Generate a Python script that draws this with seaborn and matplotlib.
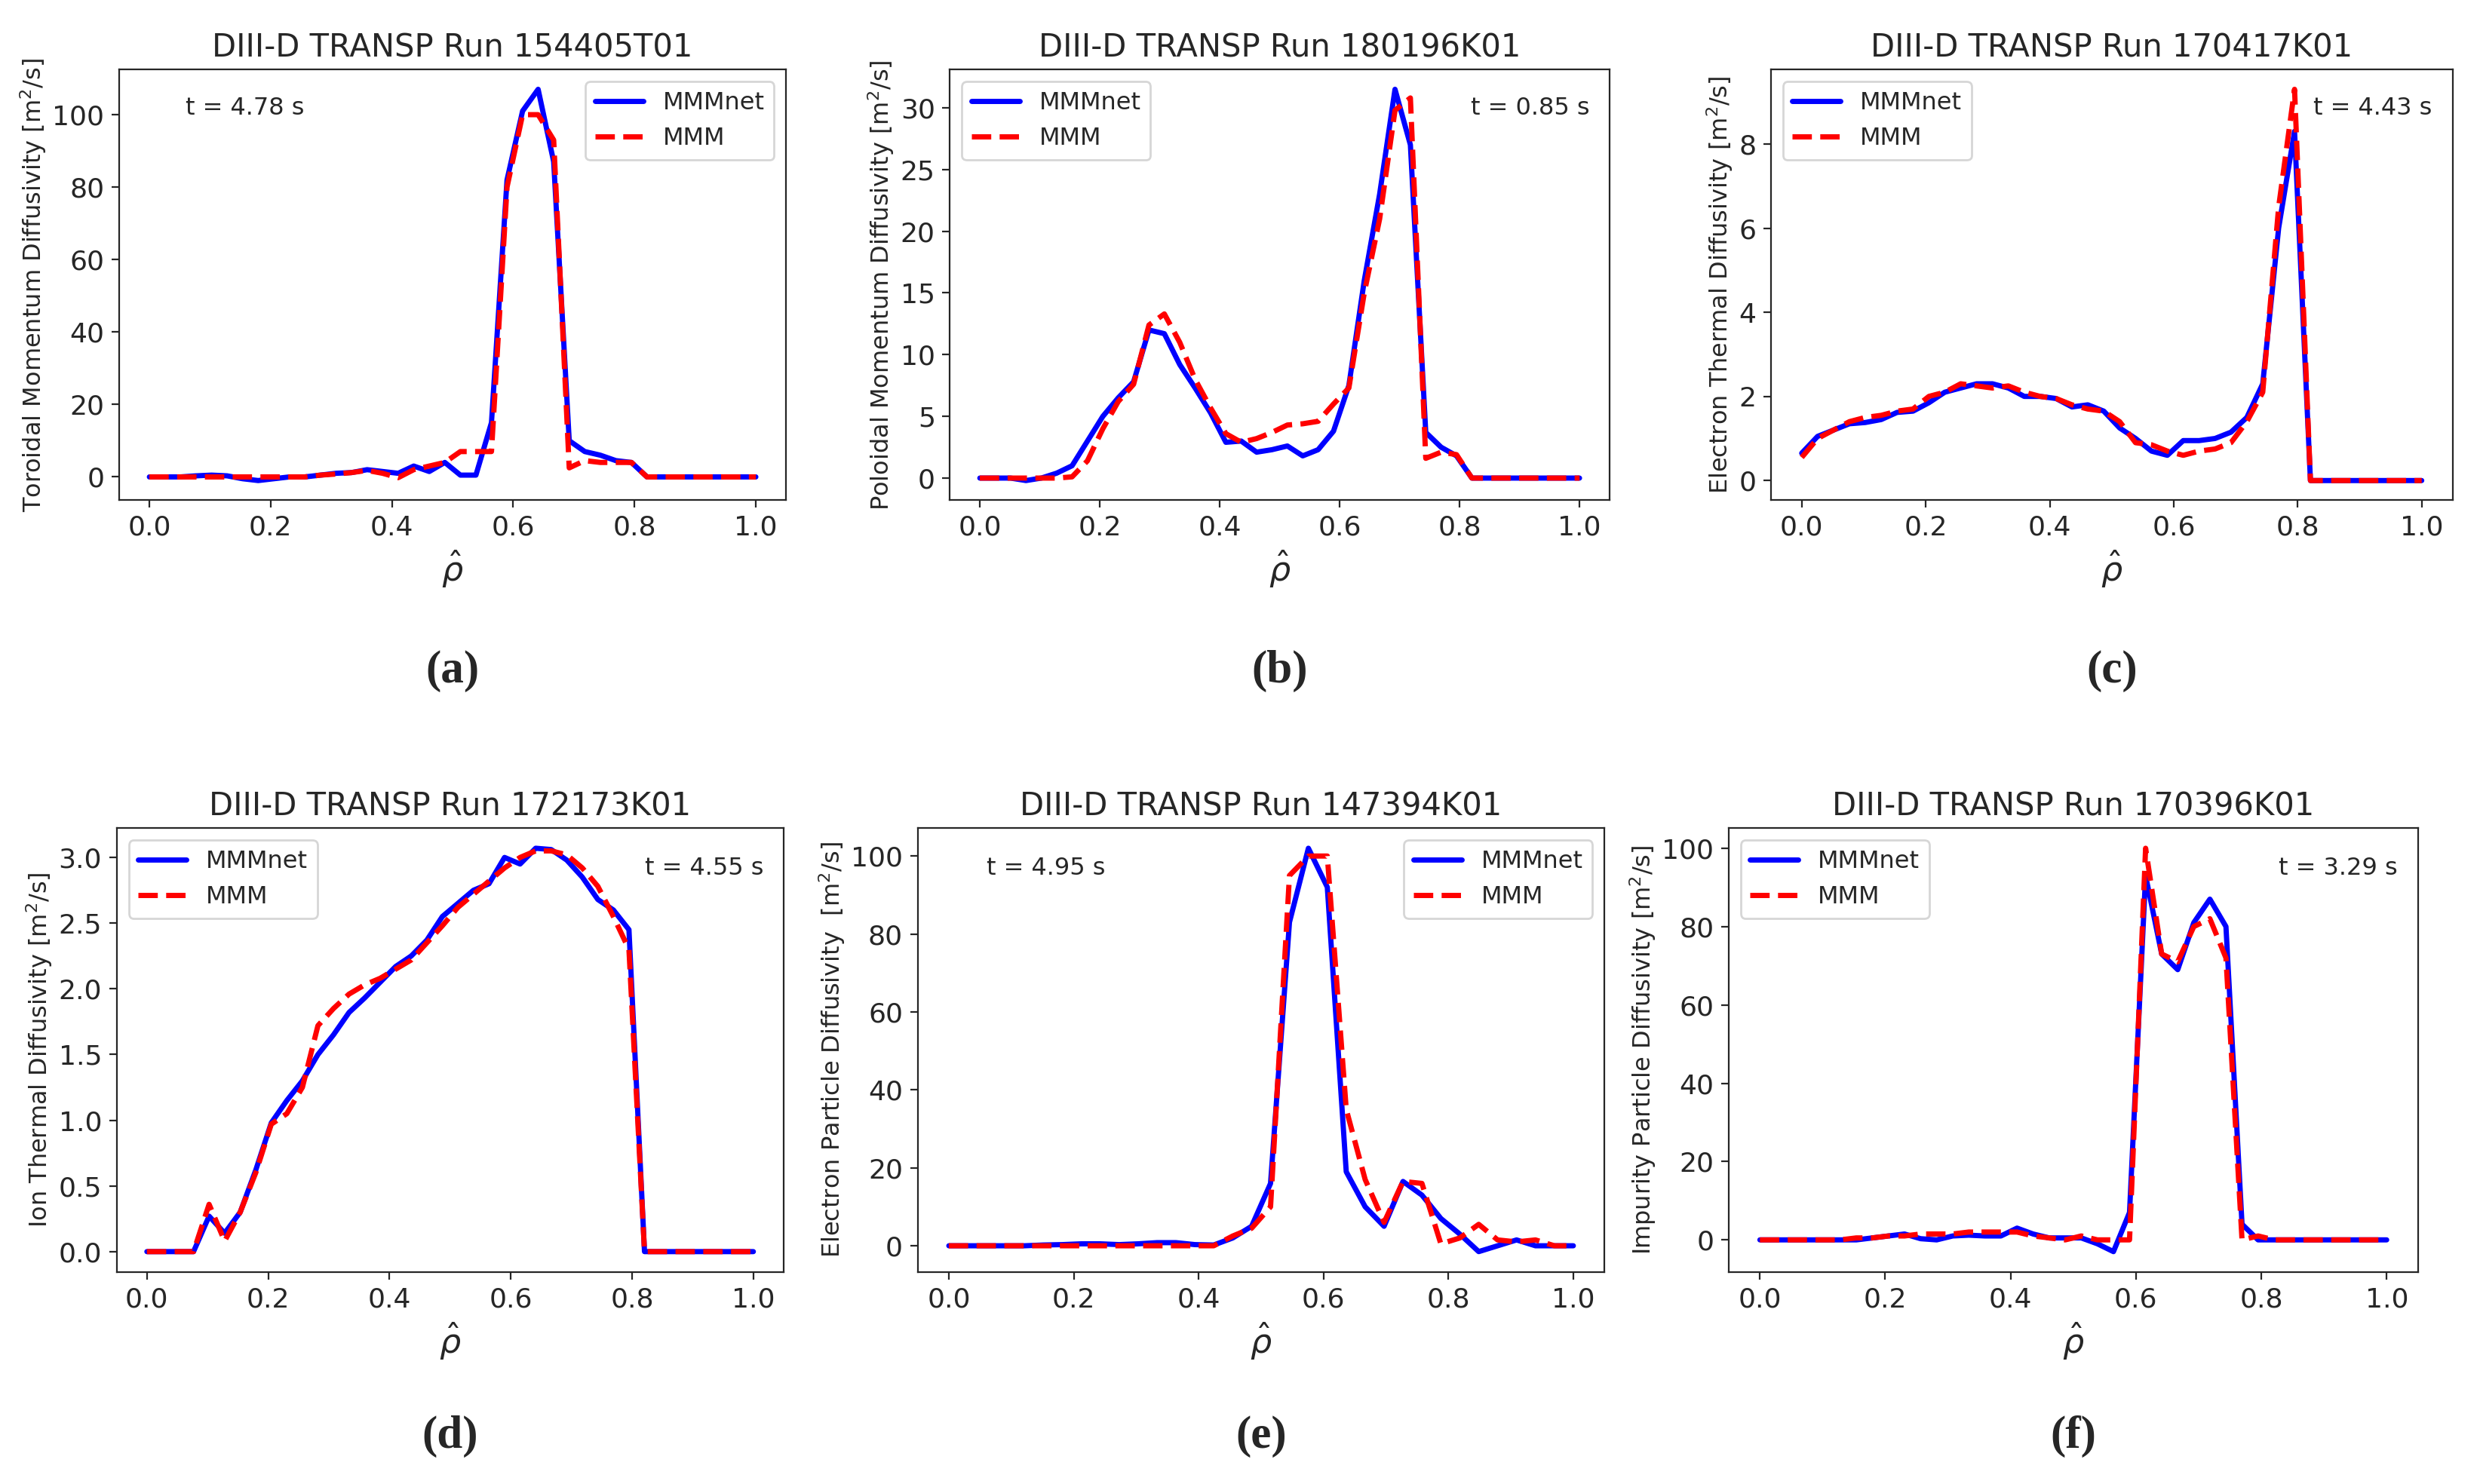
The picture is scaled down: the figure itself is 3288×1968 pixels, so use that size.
import numpy as np
import matplotlib
matplotlib.use('Agg')
import matplotlib.pyplot as plt
import seaborn as sns

# ── Data ─────────────────────────────────────────────────────
rho40 = np.linspace(0, 1, 40)
rho34 = np.linspace(0, 1, 34)
Z8 = [0] * 8

a_net = [0, 0, 0, 0.3, 0.5, 0.3, -0.5, -1, -0.5, 0, 0, 0.5, 1, 1.2, 2, 1.5, 1, 3, 1.5, 4,
         0.5, 0.5, 15, 82, 101, 107, 87, 10, 7, 6, 4.5, 4] + Z8
a_mmm = [0, 0, 0, 0, 0, 0, 0, 0, 0, 0, 0, 0.5, 0.8, 1.2, 1.8, 1, -0.2, 2, 3, 4,
         7, 7, 7, 80, 100, 100, 93, 2.5, 4.5, 4, 4, 4] + Z8

b_net = [0, 0, 0, -0.2, 0, 0.4, 1, 3, 5, 6.5, 7.8, 12, 11.7, 9.2, 7.3, 5.3, 2.9, 3, 2.1, 2.3,
         2.6, 1.8, 2.3, 3.8, 7.5, 16, 23, 31.5, 27, 3.7, 2.5, 1.8] + Z8
b_mmm = [0, 0, 0, 0, 0, 0, 0.1, 1.4, 4, 6.2, 7.6, 12.4, 13.3, 11, 8, 5.7, 3.6, 2.9, 3.2, 3.7,
         4.3, 4.4, 4.6, 6, 7.3, 15, 21, 29.8, 30.8, 1.6, 2.1, 1.9] + Z8

c_net = [0.65, 1.05, 1.2, 1.35, 1.38, 1.45, 1.62, 1.65, 1.85, 2.1, 2.2, 2.3, 2.3, 2.2, 2.0, 2.0,
         1.95, 1.75, 1.8, 1.65, 1.25, 1.0, 0.7, 0.6, 0.95, 0.95, 1.0, 1.15, 1.5, 2.3, 6, 8.3] + Z8
c_mmm = [0.55, 1.0, 1.2, 1.4, 1.5, 1.55, 1.65, 1.7, 2.0, 2.1, 2.3, 2.25, 2.2, 2.25, 2.1, 2.0,
         1.95, 1.8, 1.7, 1.65, 1.4, 0.9, 0.85, 0.7, 0.6, 0.7, 0.75, 0.9, 1.4, 2.1, 6.5, 9.3] + Z8

d_net = [0, 0, 0, 0, 0.27, 0.14, 0.3, 0.62, 0.98, 1.15, 1.3, 1.5, 1.65, 1.82, 1.93, 2.05,
         2.17, 2.25, 2.37, 2.55, 2.65, 2.75, 2.8, 3.0, 2.95, 3.07, 3.06, 2.98, 2.85, 2.68, 2.6, 2.45] + Z8
d_mmm = [0, 0, 0, 0, 0.36, 0.08, 0.3, 0.6, 0.97, 1.05, 1.25, 1.72, 1.85, 1.96, 2.03, 2.08,
         2.15, 2.22, 2.35, 2.48, 2.62, 2.72, 2.82, 2.92, 3.0, 3.05, 3.05, 3.02, 2.92, 2.78, 2.55, 2.3] + Z8

e_net = [0, 0, 0, 0, 0, 0.2, 0.3, 0.5, 0.5, 0.3, 0.5, 0.8, 0.8, 0.3, 0.2, 2, 5, 16, 83, 102,
         92, 19, 10, 5, 16.5, 13, 7, 3, -1.5, 0, 1.5, 0, 0, 0]
e_mmm = [0, 0, 0, 0, 0, 0, 0, 0, 0, 0, 0, 0, 0, 0, 0, 2.5, 4.5, 10, 95, 100,
         100, 35, 17, 6, 16.5, 16, 0.5, 2, 5.5, 1.5, 1, 1.5, 0, 0]

f_net = [0, 0, 0, 0, 0, 0, 0, 0.5, 1, 1.5, 0.3, 0, 1, 1.2, 1, 1, 3, 1.5, 0.5, 0.5,
         0.5, -1, -3, 7, 93, 73, 69, 81, 87, 80, 4, 0] + Z8
f_mmm = [0, 0, 0, 0, 0, 0, 0.5, 0.5, 1, 1, 1.5, 1.5, 1.5, 2, 2, 2, 2, 1, 0.5, 0,
         1, 0, 0, 0, 100, 73, 71, 80, 82, 72, 0, 1] + Z8

titles = ['DIII-D TRANSP Run 154405T01', 'DIII-D TRANSP Run 180196K01', 'DIII-D TRANSP Run 170417K01',
          'DIII-D TRANSP Run 172173K01', 'DIII-D TRANSP Run 147394K01', 'DIII-D TRANSP Run 170396K01']
ylabels = ['Toroidal Momentum Diffusivity [m$^2$/s]', 'Poloidal Momentum Diffusivity [m$^2$/s]',
           'Electron Thermal Diffusivity [m$^2$/s]', 'Ion Thermal Diffusivity [m$^2$/s]',
           'Electron Particle Diffusivity  [m$^2$/s]', 'Impurity Particle Diffusivity [m$^2$/s]']
times = ['t = 4.78 s', 't = 0.85 s', 't = 4.43 s', 't = 4.55 s', 't = 4.95 s', 't = 3.29 s']
tags = ['(a)', '(b)', '(c)', '(d)', '(e)', '(f)']

panels = [(rho40, a_net, a_mmm), (rho40, b_net, b_mmm), (rho40, c_net, c_mmm),
          (rho40, d_net, d_mmm), (rho34, e_net, e_mmm), (rho40, f_net, f_mmm)]

# legend location, time-label position
legend_locs = ['upper right', 'upper left', 'upper left', 'upper left', 'upper right', 'upper left']
time_pos = [(0.1, 0.91, 'left'), (0.97, 0.91, 'right'), (0.97, 0.91, 'right'),
            (0.97, 0.91, 'right'), (0.1, 0.91, 'left'), (0.97, 0.91, 'right')]

# axes rectangles [left, bottom, width, height] (figure fraction)
rects = [[0.048, 0.663, 0.269, 0.290], [0.383, 0.663, 0.266, 0.290], [0.714, 0.663, 0.275, 0.290],
         [0.047, 0.143, 0.269, 0.299], [0.370, 0.143, 0.277, 0.299], [0.697, 0.143, 0.278, 0.299]]
tag_y = [0.548, 0.548, 0.548, 0.032, 0.032, 0.032]

sns.set_style('ticks')
fig = plt.figure(figsize=(16.44, 9.84), dpi=200)
fig.patch.set_facecolor('white')

for i, (x, net, mmm) in enumerate(panels):
    ax = fig.add_axes(rects[i])
    sns.lineplot(x=x, y=net, ax=ax, color='blue', linewidth=2.5, label='MMMnet')
    sns.lineplot(x=x, y=mmm, ax=ax, color='red', linewidth=2.5, linestyle='--', label='MMM')
    ax.set_title(titles[i], fontsize=15)
    ax.set_ylabel(ylabels[i], fontsize=11.5, labelpad=2)
    ax.set_xlabel(r'$\hat{\rho}$', fontsize=16)
    ax.set_xticks([0.0, 0.2, 0.4, 0.6, 0.8, 1.0])
    ax.tick_params(labelsize=13)
    ax.legend(loc=legend_locs[i], fontsize=11.5)
    tx, ty, ha = time_pos[i]
    ax.text(tx, ty, times[i], transform=ax.transAxes, ha=ha, va='center', fontsize=11.5)
    for s in ax.spines.values():
        s.set_visible(True)
    fig.text(rects[i][0] + rects[i][2] / 2, tag_y[i], tags[i], ha='center', va='center',
             fontsize=22, fontweight='bold', family='Liberation Serif')

plt.savefig('out.png', dpi=200, facecolor='white')
